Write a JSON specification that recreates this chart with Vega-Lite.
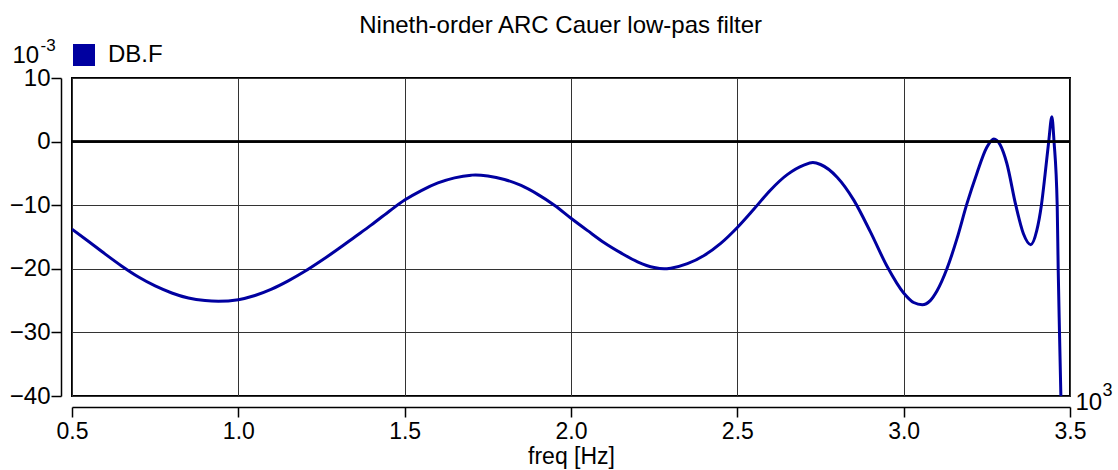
{
  "$schema": "https://vega.github.io/schema/vega-lite/v6.json",
  "width": 998,
  "height": 318,
  "autosize": "none",
  "padding": {"left": 72, "top": 78, "right": 48, "bottom": 74},
  "background": "white",
  "config": {
    "view": {"stroke": "black", "strokeWidth": 2},
    "font": "Liberation Sans"
  },
  "title": {
    "text": "Nineth-order ARC Cauer low-pas filter",
    "fontSize": 24,
    "fontWeight": "normal",
    "font": "Liberation Sans",
    "color": "black",
    "anchor": "middle",
    "frame": "bounds",
    "offset": -2
  },
  "datasets": {
    "curve": [
      {"freq": 0.5, "db": -13.76, "series": "DB.F"},
      {"freq": 0.55, "db": -15.7, "series": "DB.F"},
      {"freq": 0.6, "db": -17.7, "series": "DB.F"},
      {"freq": 0.65, "db": -19.6, "series": "DB.F"},
      {"freq": 0.7, "db": -21.3, "series": "DB.F"},
      {"freq": 0.75, "db": -22.7, "series": "DB.F"},
      {"freq": 0.8, "db": -23.8, "series": "DB.F"},
      {"freq": 0.85, "db": -24.6, "series": "DB.F"},
      {"freq": 0.9, "db": -25.0, "series": "DB.F"},
      {"freq": 0.94, "db": -25.1, "series": "DB.F"},
      {"freq": 1.0, "db": -24.85, "series": "DB.F"},
      {"freq": 1.05, "db": -24.2, "series": "DB.F"},
      {"freq": 1.1, "db": -23.2, "series": "DB.F"},
      {"freq": 1.15, "db": -21.9, "series": "DB.F"},
      {"freq": 1.2, "db": -20.4, "series": "DB.F"},
      {"freq": 1.25, "db": -18.7, "series": "DB.F"},
      {"freq": 1.3, "db": -16.9, "series": "DB.F"},
      {"freq": 1.35, "db": -15.0, "series": "DB.F"},
      {"freq": 1.4, "db": -13.1, "series": "DB.F"},
      {"freq": 1.45, "db": -11.1, "series": "DB.F"},
      {"freq": 1.5, "db": -9.2, "series": "DB.F"},
      {"freq": 1.55, "db": -7.7, "series": "DB.F"},
      {"freq": 1.6, "db": -6.5, "series": "DB.F"},
      {"freq": 1.65, "db": -5.7, "series": "DB.F"},
      {"freq": 1.7, "db": -5.28, "series": "DB.F"},
      {"freq": 1.713, "db": -5.24, "series": "DB.F"},
      {"freq": 1.75, "db": -5.4, "series": "DB.F"},
      {"freq": 1.8, "db": -5.95, "series": "DB.F"},
      {"freq": 1.85, "db": -6.9, "series": "DB.F"},
      {"freq": 1.9, "db": -8.3, "series": "DB.F"},
      {"freq": 1.95, "db": -10.0, "series": "DB.F"},
      {"freq": 2.0, "db": -12.05, "series": "DB.F"},
      {"freq": 2.05, "db": -14.0, "series": "DB.F"},
      {"freq": 2.1, "db": -15.9, "series": "DB.F"},
      {"freq": 2.15, "db": -17.5, "series": "DB.F"},
      {"freq": 2.2, "db": -18.9, "series": "DB.F"},
      {"freq": 2.25, "db": -19.8, "series": "DB.F"},
      {"freq": 2.28, "db": -20.0, "series": "DB.F"},
      {"freq": 2.3, "db": -19.9, "series": "DB.F"},
      {"freq": 2.35, "db": -19.2, "series": "DB.F"},
      {"freq": 2.4, "db": -17.9, "series": "DB.F"},
      {"freq": 2.45, "db": -16.0, "series": "DB.F"},
      {"freq": 2.5, "db": -13.5, "series": "DB.F"},
      {"freq": 2.55, "db": -10.6, "series": "DB.F"},
      {"freq": 2.6, "db": -7.6, "series": "DB.F"},
      {"freq": 2.65, "db": -5.2, "series": "DB.F"},
      {"freq": 2.7, "db": -3.7, "series": "DB.F"},
      {"freq": 2.727, "db": -3.3, "series": "DB.F"},
      {"freq": 2.75, "db": -3.6, "series": "DB.F"},
      {"freq": 2.8, "db": -5.6, "series": "DB.F"},
      {"freq": 2.85, "db": -9.2, "series": "DB.F"},
      {"freq": 2.9, "db": -14.2, "series": "DB.F"},
      {"freq": 2.95, "db": -19.6, "series": "DB.F"},
      {"freq": 3.0, "db": -23.8, "series": "DB.F"},
      {"freq": 3.03, "db": -25.3, "series": "DB.F"},
      {"freq": 3.056, "db": -25.65, "series": "DB.F"},
      {"freq": 3.08, "db": -25.0, "series": "DB.F"},
      {"freq": 3.1, "db": -23.5, "series": "DB.F"},
      {"freq": 3.13, "db": -20.0, "series": "DB.F"},
      {"freq": 3.16, "db": -15.3, "series": "DB.F"},
      {"freq": 3.19, "db": -9.8, "series": "DB.F"},
      {"freq": 3.22, "db": -5.0, "series": "DB.F"},
      {"freq": 3.25, "db": -0.9, "series": "DB.F"},
      {"freq": 3.271, "db": 0.42, "series": "DB.F"},
      {"freq": 3.29, "db": -0.5, "series": "DB.F"},
      {"freq": 3.31, "db": -3.4, "series": "DB.F"},
      {"freq": 3.337, "db": -10.0, "series": "DB.F"},
      {"freq": 3.36, "db": -14.5, "series": "DB.F"},
      {"freq": 3.382, "db": -16.2, "series": "DB.F"},
      {"freq": 3.4, "db": -14.0, "series": "DB.F"},
      {"freq": 3.414, "db": -10.0, "series": "DB.F"},
      {"freq": 3.425, "db": -5.2, "series": "DB.F"},
      {"freq": 3.436, "db": 0.0, "series": "DB.F"},
      {"freq": 3.4455, "db": 3.9, "series": "DB.F"},
      {"freq": 3.452, "db": 0.0, "series": "DB.F"},
      {"freq": 3.4615, "db": -10.0, "series": "DB.F"},
      {"freq": 3.4645, "db": -20.0, "series": "DB.F"},
      {"freq": 3.4684, "db": -30.0, "series": "DB.F"},
      {"freq": 3.4726, "db": -40.0, "series": "DB.F"}
    ],
    "zero": [{"level": 0}]
  },
  "layer": [
    {
      "data": {"name": "curve"},
      "mark": {"type": "line", "interpolate": "monotone", "strokeWidth": 3, "clip": true},
      "encoding": {
        "x": {
          "field": "freq",
          "type": "quantitative",
          "scale": {"domain": [0.5, 3.5], "nice": false, "zero": false},
          "axis": {
            "values": [0.5, 1, 1.5, 2, 2.5, 3, 3.5],
            "format": ".1f",
            "labelFontSize": 23,
            "labelFont": "Liberation Sans",
            "labelColor": "black",
            "labelPadding": 3,
            "labelFlush": false,
            "offset": 11,
            "domainColor": "black",
            "domainWidth": 1.5,
            "tickColor": "black",
            "tickSize": 10,
            "tickWidth": 1.5,
            "grid": true,
            "gridColor": "#333333",
            "gridWidth": 1,
            "gridOpacity": 1,
            "title": "freq [Hz]",
            "titleFont": "Liberation Sans",
            "titleFontSize": 23,
            "titleFontWeight": "normal",
            "titleColor": "black",
            "titlePadding": 2
          }
        },
        "y": {
          "field": "db",
          "type": "quantitative",
          "scale": {"domain": [-40, 10], "nice": false, "zero": false},
          "axis": {
            "values": [-40, -30, -20, -10, 0, 10],
            "labelFontSize": 24,
            "labelFont": "Liberation Sans",
            "labelColor": "black",
            "labelPadding": 1,
            "labelFlush": false,
            "offset": 11,
            "domainColor": "black",
            "domainWidth": 1.5,
            "tickColor": "black",
            "tickSize": 10,
            "tickWidth": 1.5,
            "grid": true,
            "gridColor": "#333333",
            "gridWidth": 1,
            "gridOpacity": 1,
            "title": "10",
            "titleFont": "Liberation Sans",
            "titleFontSize": 24,
            "titleFontWeight": "normal",
            "titleColor": "black",
            "titleAngle": 0,
            "titleAlign": "left",
            "titleBaseline": "alphabetic",
            "titleX": -49,
            "titleY": -16
          }
        },
        "color": {
          "field": "series",
          "type": "nominal",
          "scale": {"range": ["#0000a0"]},
          "legend": {
            "orient": "none",
            "legendX": 0,
            "legendY": -35,
            "title": null,
            "padding": 0,
            "symbolType": "square",
            "symbolSize": 484,
            "symbolFillColor": "#0000a0",
            "symbolStrokeColor": "#0000a0",
            "symbolStrokeWidth": 0,
            "labelFontSize": 24,
            "labelFont": "Liberation Sans",
            "labelColor": "black",
            "labelOffset": 12,
            "encode": {
              "symbols": {"update": {"fill": {"value": "#0000a0"}, "stroke": {"value": "#0000a0"}, "strokeWidth": {"value": 0}}}
            }
          }
        }
      }
    },
    {
      "data": {"name": "zero"},
      "mark": {"type": "rule", "color": "black", "strokeWidth": 2},
      "encoding": {
        "y": {
          "field": "level",
          "type": "quantitative",
          "scale": {"domain": [-40, 10], "nice": false, "zero": false},
          "axis": {
            "orient": "left",
            "labels": false,
            "ticks": false,
            "domain": false,
            "grid": false,
            "title": "-3",
            "titleFont": "Liberation Sans",
            "titleFontSize": 17,
            "titleFontWeight": "normal",
            "titleColor": "black",
            "titleAngle": 0,
            "titleAlign": "left",
            "titleBaseline": "alphabetic",
            "titleX": -32,
            "titleY": -28
          }
        }
      }
    },
    {
      "data": {"name": "zero"},
      "mark": {"type": "rule", "color": "black", "strokeWidth": 2},
      "encoding": {
        "y": {
          "field": "level",
          "type": "quantitative",
          "scale": {"domain": [-40, 10], "nice": false, "zero": false},
          "axis": {
            "orient": "right",
            "labels": false,
            "ticks": false,
            "domain": false,
            "grid": false,
            "title": "10",
            "titleFont": "Liberation Sans",
            "titleFontSize": 24,
            "titleFontWeight": "normal",
            "titleColor": "black",
            "titleAngle": 0,
            "titleAlign": "left",
            "titleBaseline": "alphabetic",
            "titleX": 5,
            "titleY": 331
          }
        }
      }
    },
    {
      "data": {"name": "zero"},
      "mark": {"type": "rule", "color": "black", "strokeWidth": 2},
      "encoding": {
        "y": {
          "field": "level",
          "type": "quantitative",
          "scale": {"domain": [-40, 10], "nice": false, "zero": false},
          "axis": {
            "orient": "right",
            "labels": false,
            "ticks": false,
            "domain": false,
            "grid": false,
            "title": "3",
            "titleFont": "Liberation Sans",
            "titleFontSize": 18,
            "titleFontWeight": "normal",
            "titleColor": "black",
            "titleAngle": 0,
            "titleAlign": "left",
            "titleBaseline": "alphabetic",
            "titleX": 32,
            "titleY": 317
          }
        }
      }
    }
  ],
  "resolve": {"axis": {"y": "independent"}}
}
